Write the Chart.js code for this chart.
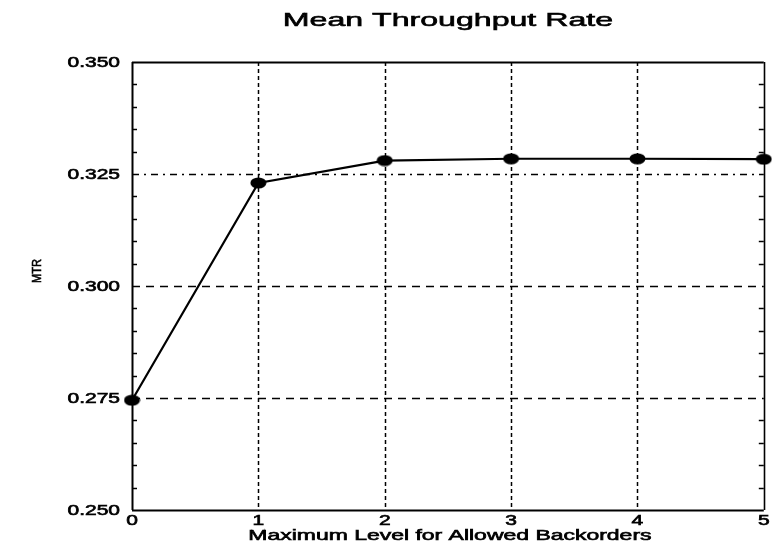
<!DOCTYPE html>
<html>
<head>
<meta charset="utf-8">
<title>Mean Throughput Rate</title>
<script src="https://cdn.jsdelivr.net/npm/chart.js@4.4.1/dist/chart.umd.min.js"></script>
<style>
  html, body { margin: 0; padding: 0; background: #fff; }
  canvas { display: block; }
</style>
</head>
<body>
<canvas id="mtr" width="772" height="545"></canvas>
<script>
'use strict';

// Maximum level for allowed backorders vs. mean throughput rate
var backorderLevels = [0, 1, 2, 3, 4, 5];
var meanThroughput = [0.2745, 0.3230, 0.3280, 0.3284, 0.3284, 0.3283];

var xTicks = [0, 1, 2, 3, 4, 5];
var yTicks = [0.250, 0.275, 0.300, 0.325, 0.350];
var yMinorStep = 0.005;

var TITLE = 'Mean Throughput Rate';
var X_TITLE = 'Maximum Level for Allowed Backorders';
var Y_TITLE = 'MTR';
var FONT = '"Liberation Sans", Arial, Helvetica, sans-serif';

// filled ellipse used as the point marker
function makeMarker(w, h) {
  var c = document.createElement('canvas');
  c.width = w;
  c.height = h;
  var g = c.getContext('2d');
  g.fillStyle = '#000';
  g.beginPath();
  g.ellipse(w / 2, h / 2, w / 2 - 0.5, h / 2 - 0.5, 0, 0, Math.PI * 2);
  g.fill();
  return c;
}

// old plotter fonts are wide, so text is stretched horizontally
// and given a thin outline to thicken the strokes a little
function wideText(ctx, text, x, y, size, sx, align) {
  ctx.save();
  ctx.font = size + 'px ' + FONT;
  ctx.fillStyle = '#000';
  ctx.strokeStyle = '#000';
  ctx.lineWidth = 0.6;
  ctx.textBaseline = 'middle';
  ctx.textAlign = align || 'center';
  ctx.translate(x, y);
  ctx.scale(sx, 1);
  ctx.fillText(text, 0, 0);
  ctx.strokeText(text, 0, 0);
  ctx.restore();
}

function crisp(p) {
  return Math.round(p) + 0.5;
}

function hLine(ctx, x1, x2, y, dash, width) {
  ctx.save();
  ctx.strokeStyle = '#000';
  ctx.lineWidth = width;
  ctx.setLineDash(dash);
  ctx.beginPath();
  ctx.moveTo(x1, crisp(y));
  ctx.lineTo(x2, crisp(y));
  ctx.stroke();
  ctx.restore();
}

function vLine(ctx, x, y1, y2, dash, width) {
  ctx.save();
  ctx.strokeStyle = '#000';
  ctx.lineWidth = width;
  ctx.setLineDash(dash);
  ctx.beginPath();
  ctx.moveTo(crisp(x), y1);
  ctx.lineTo(crisp(x), y2);
  ctx.stroke();
  ctx.restore();
}

var plotFrame = {
  id: 'plotFrame',
  beforeDatasetsDraw: function (chart) {
    var ctx = chart.ctx;
    var a = chart.chartArea;
    var xs = chart.scales.x;
    var ys = chart.scales.y;

    // grid: dashed verticals, dashed horizontals, dash-dot at 0.325
    xTicks.forEach(function (v) {
      if (v === xTicks[0] || v === xTicks[xTicks.length - 1]) return;
      vLine(ctx, xs.getPixelForValue(v), a.top, a.bottom, [4, 3], 1.5);
    });
    yTicks.forEach(function (v, i) {
      if (i === 0 || i === yTicks.length - 1) return;
      var dash = Math.abs(v - 0.325) < 1e-9 ? [7, 5, 2, 5] : [8, 6];
      hLine(ctx, a.left, a.right, ys.getPixelForValue(v), dash, 1.5);
    });

    // minor tick marks on both vertical edges
    var n = Math.round((yTicks[yTicks.length - 1] - yTicks[0]) / yMinorStep);
    for (var i = 1; i < n; i++) {
      if (i % 5 === 0) continue;
      var py = ys.getPixelForValue(yTicks[0] + i * yMinorStep);
      hLine(ctx, a.left, a.left + 5, py, [], 1.5);
      hLine(ctx, a.right - 5, a.right, py, [], 1.5);
    }

    // box
    vLine(ctx, a.left, a.top, a.bottom, [], 2);
    vLine(ctx, a.right, a.top, a.bottom, [], 1.6);
    hLine(ctx, a.left, a.right, a.top, [], 1.8);
    hLine(ctx, a.left, a.right, a.bottom, [], 1.8);
  },
  afterDraw: function (chart) {
    var ctx = chart.ctx;
    var a = chart.chartArea;
    var xs = chart.scales.x;
    var ys = chart.scales.y;
    var midX = (a.left + a.right) / 2;

    wideText(ctx, TITLE, midX, 21, 19, 1.69, 'center');

    yTicks.forEach(function (v) {
      wideText(ctx, v.toFixed(3), a.left - 12, ys.getPixelForValue(v) + 1, 14, 1.5, 'right');
    });
    xTicks.forEach(function (v) {
      wideText(ctx, String(v), xs.getPixelForValue(v), a.bottom + 11, 14, 1.5, 'center');
    });

    wideText(ctx, X_TITLE, midX + 2, a.bottom + 26, 14, 1.64, 'center');

    ctx.save();
    ctx.translate(37, 271);
    ctx.rotate(-Math.PI / 2);
    wideText(ctx, Y_TITLE, 0, 0, 13, 0.85, 'center');
    ctx.restore();
  }
};

var points = backorderLevels.map(function (x, i) {
  return { x: x, y: meanThroughput[i] };
});

new Chart(document.getElementById('mtr'), {
  type: 'line',
  data: {
    datasets: [
      {
        label: 'MTR',
        data: points,
        borderColor: '#000',
        borderWidth: 2.2,
        tension: 0,
        fill: false,
        clip: false,
        pointStyle: makeMarker(17, 12),
        pointRadius: 6,
        pointBackgroundColor: '#000',
        pointBorderColor: '#000'
      }
    ]
  },
  options: {
    responsive: false,
    animation: false,
    events: [],
    layout: {
      padding: { left: 132, right: 5, top: 62, bottom: 35 }
    },
    plugins: {
      legend: { display: false },
      title: { display: false },
      tooltip: { enabled: false }
    },
    scales: {
      x: {
        type: 'linear',
        min: xTicks[0],
        max: xTicks[xTicks.length - 1],
        grid: { display: false, drawTicks: false },
        border: { display: false },
        ticks: { display: false }
      },
      y: {
        type: 'linear',
        min: yTicks[0],
        max: yTicks[yTicks.length - 1],
        grid: { display: false, drawTicks: false },
        border: { display: false },
        ticks: { display: false }
      }
    }
  },
  plugins: [plotFrame]
});
</script>
</body>
</html>
